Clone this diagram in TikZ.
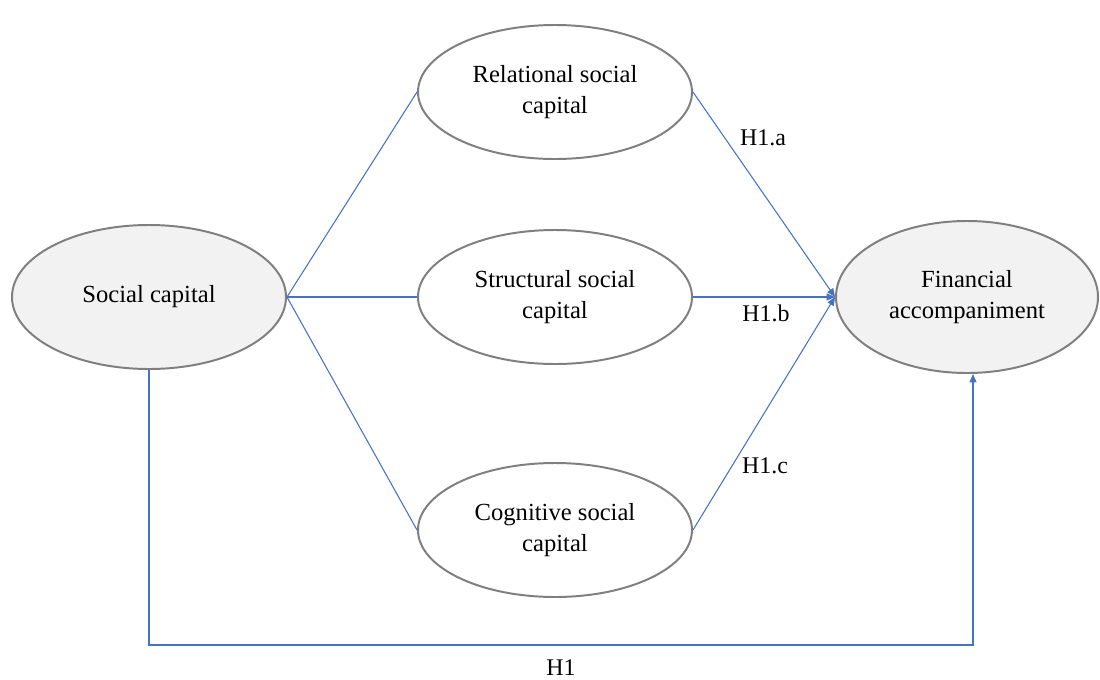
\documentclass[tikz,border=0pt]{standalone}
\usepackage{fontspec}
\setmainfont{Liberation Serif}
\usetikzlibrary{shapes.geometric,arrows.meta}
\definecolor{lineblue}{RGB}{68,114,196}
\definecolor{ellgray}{RGB}{127,127,127}
\definecolor{ellfill}{RGB}{242,242,242}
\tikzset{
  construct/.style={ellipse, draw=ellgray, line width=1.4pt, fill=white,
    minimum width=274*0.025cm, minimum height=134*0.025cm, inner sep=0pt,
    align=center, font=\fontsize{17.5}{21.5}\selectfont},
  mainconstruct/.style={construct, fill=ellfill},
  link/.style={draw=lineblue, line width=0.75pt},
  arrowlink/.style={link, -{Triangle[length=6pt,width=5pt]}},
  hlabel/.style={font=\fontsize{17}{20}\selectfont, inner sep=1pt}
}
\begin{document}
\begin{tikzpicture}[x=0.025cm,y=-0.025cm]
\useasboundingbox (0,0) rectangle (1100,679);
\node[mainconstruct, minimum height=144*0.025cm] (sc) at (149,297) {Social capital};
\node[construct] (rel) at (555,92) {Relational social\\capital};
\node[construct] (str) at (555,297) {Structural social\\capital};
\node[construct] (cog) at (555,530) {Cognitive social\\capital};
\node[mainconstruct, minimum width=262*0.025cm, minimum height=152*0.025cm] (fa) at (967,297) {Financial\\accompaniment};
\coordinate (h1corner) at (973,645);
\draw[link] (sc.east) -- (rel.west);
\draw[link] (sc.east) -- (str.west);
\draw[link] (sc.east) -- (cog.west);
\draw[arrowlink] (rel.east) -- (fa.west);
\draw[arrowlink] (str.east) -- (fa.west);
\draw[arrowlink] (cog.east) -- (fa.west);
\draw[arrowlink] (sc.south) |- (h1corner) -- (h1corner |- fa.south);
\node[hlabel] (la) at (763,138) {H1.a};
\node[hlabel] (lb) at (766,313) {H1.b};
\node[hlabel] (lc) at (765,466) {H1.c};
\node[hlabel] (lh) at (561,668) {H1};
\end{tikzpicture}
\end{document}
